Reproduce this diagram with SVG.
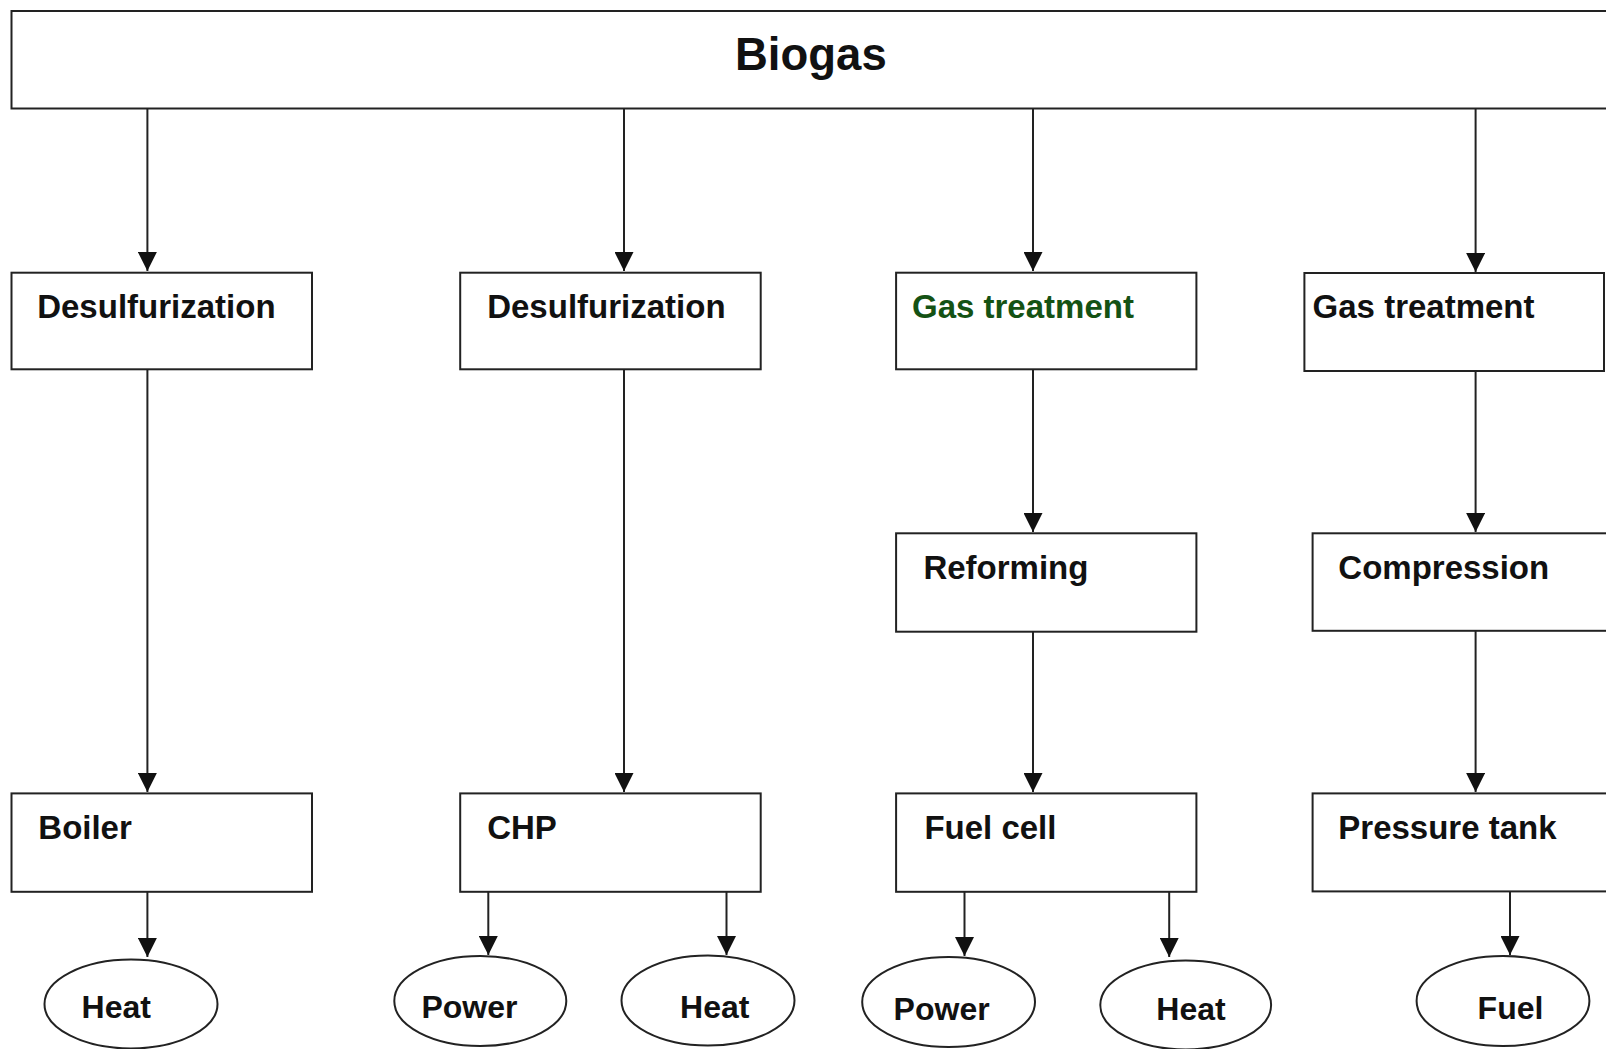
<svg xmlns="http://www.w3.org/2000/svg" width="1606" height="1049" viewBox="0 0 1606 1049">
<defs>
<style>
.box{fill:#fff;stroke:#222;stroke-width:2}
.ell{fill:#fff;stroke:#222;stroke-width:2}
.lbl{font-family:"Liberation Sans",Arial,sans-serif;font-weight:bold;font-size:33px;fill:#111}
.olbl{font-family:"Liberation Sans",Arial,sans-serif;font-weight:bold;font-size:32px;fill:#111}
.green{fill:#145214}
.title{font-family:"Liberation Sans",Arial,sans-serif;font-weight:bold;font-size:45.5px;fill:#111}
.conn line{stroke:#222;stroke-width:2;marker-end:url(#arr)}
</style>
<marker id="arr" markerUnits="userSpaceOnUse" markerWidth="19" markerHeight="19" refX="19" refY="9.5" orient="auto">
<path d="M0,0 L19,9.5 L0,19 z" fill="#111"/>
</marker>
</defs>
<rect width="1606" height="1049" fill="#fff"/>
<g id="biogas"><rect class="box" x="11.5" y="11" width="1610" height="97.5"/><text class="title" x="735" y="70">Biogas</text></g>
<g id="desulf1"><rect class="box" x="11.5" y="272.7" width="300.5" height="96.6"/><text class="lbl" x="37.2" y="317.7">Desulfurization</text></g>
<g id="desulf2"><rect class="box" x="460.2" y="272.7" width="300.5" height="96.6"/><text class="lbl" x="487.2" y="317.7">Desulfurization</text></g>
<g id="gastreat1"><rect class="box" x="896.1" y="272.7" width="300.3" height="96.6"/><text class="lbl green" x="912" y="317.7">Gas treatment</text></g>
<g id="gastreat2"><rect class="box" x="1304.4" y="273" width="299.6" height="98"/><text class="lbl" x="1312.6" y="317.7">Gas treatment</text></g>
<g id="reforming"><rect class="box" x="896.1" y="533.3" width="300.3" height="98.4"/><text class="lbl" x="923.4" y="578.8">Reforming</text></g>
<g id="compression"><rect class="box" x="1312.6" y="533.3" width="320" height="97.5"/><text class="lbl" x="1338.3" y="578.8">Compression</text></g>
<g id="boiler"><rect class="box" x="11.5" y="793.4" width="300.5" height="98.4"/><text class="lbl" x="38.3" y="838.6">Boiler</text></g>
<g id="chp"><rect class="box" x="460.2" y="793.4" width="300.5" height="98.4"/><text class="lbl" x="487.2" y="838.6">CHP</text></g>
<g id="fuelcell"><rect class="box" x="896.1" y="793.4" width="300.3" height="98.4"/><text class="lbl" x="924.4" y="838.6">Fuel cell</text></g>
<g id="pressuretank"><rect class="box" x="1312.6" y="793.4" width="320" height="98"/><text class="lbl" x="1338.3" y="838.6">Pressure tank</text></g>
<g id="heat1"><ellipse class="ell" cx="131" cy="1004" rx="86.5" ry="44.5"/><text class="olbl" x="81.6" y="1017.5">Heat</text></g>
<g id="power1"><ellipse class="ell" cx="480.3" cy="1001" rx="86" ry="45"/><text class="olbl" x="421.4" y="1018">Power</text></g>
<g id="heat2"><ellipse class="ell" cx="708" cy="1000.5" rx="86.5" ry="45"/><text class="olbl" x="680.1" y="1018">Heat</text></g>
<g id="power2"><ellipse class="ell" cx="948.6" cy="1002" rx="86.4" ry="45"/><text class="olbl" x="893.6" y="1020">Power</text></g>
<g id="heat3"><ellipse class="ell" cx="1185.7" cy="1005" rx="85.4" ry="44.5"/><text class="olbl" x="1156.3" y="1020">Heat</text></g>
<g id="fuel"><ellipse class="ell" cx="1503" cy="1001" rx="86.4" ry="45"/><text class="olbl" x="1477.6" y="1019">Fuel</text></g>
<g id="connectors" class="conn">
<line x1="147.4" y1="108.7" x2="147.4" y2="271"/>
<line x1="624" y1="108.7" x2="624" y2="271"/>
<line x1="1033" y1="108.7" x2="1033" y2="271"/>
<line x1="1475.6" y1="108.7" x2="1475.6" y2="272"/>
<line x1="147.4" y1="369.3" x2="147.4" y2="792"/>
<line x1="624" y1="369.3" x2="624" y2="792"/>
<line x1="1033" y1="369.3" x2="1033" y2="532"/>
<line x1="1475.6" y1="371" x2="1475.6" y2="532"/>
<line x1="1033" y1="631.7" x2="1033" y2="792"/>
<line x1="1475.6" y1="630.8" x2="1475.6" y2="792"/>
<line x1="147.4" y1="891.8" x2="147.4" y2="957"/>
<line x1="488.3" y1="891.8" x2="488.3" y2="955"/>
<line x1="726.5" y1="891.8" x2="726.5" y2="955"/>
<line x1="964.5" y1="891.8" x2="964.5" y2="956"/>
<line x1="1169.2" y1="891.8" x2="1169.2" y2="957"/>
<line x1="1510" y1="891.4" x2="1510" y2="955"/>
</g>
</svg>
